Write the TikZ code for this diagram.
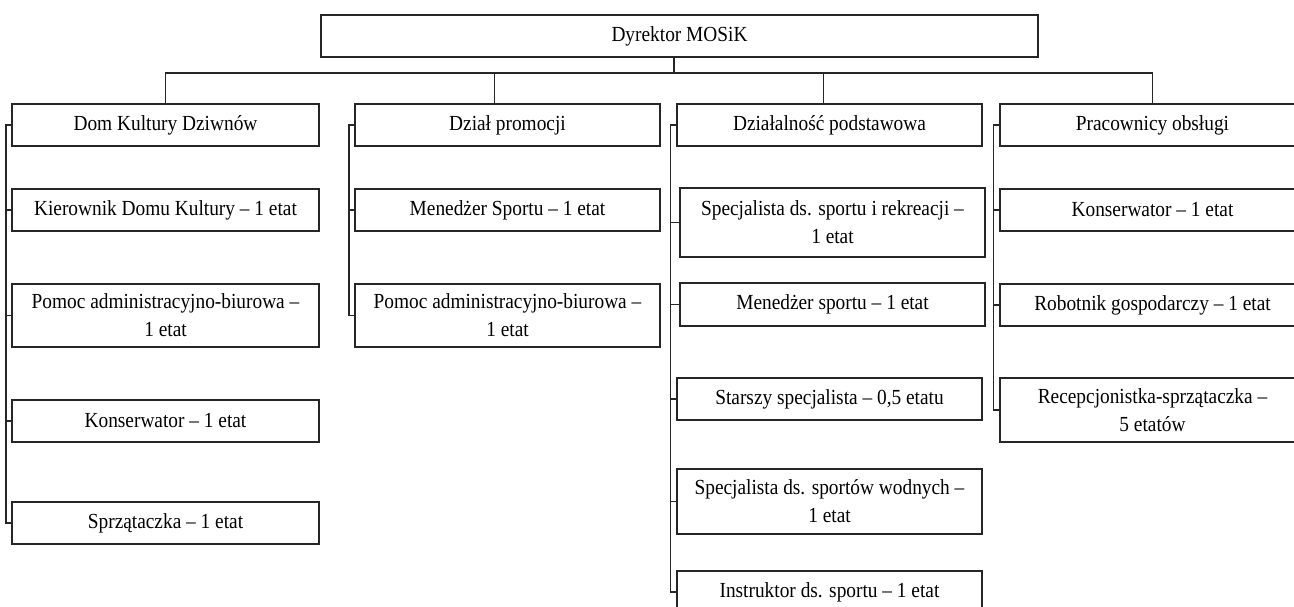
\documentclass[tikz,border=0pt]{standalone}
\usepackage{fontspec}
\setmainfont{Liberation Serif}[FakeStretch=0.9]
\usetikzlibrary{calc}

\begin{document}
\begin{tikzpicture}[x=1pt, y=-1pt,
	box/.style={draw=black!85, line width=1.1pt, minimum height=42pt, inner sep=0pt, align=center, font=\fontsize{21.5}{28}\selectfont},
	wire/.style={draw=black!85, line width=1.2pt}]
			%%%%% START %%%%%
			\useasboundingbox (0,0) rectangle (1294,607);
			\clip (0,0) rectangle (1294,607);
			
			\node[box, minimum width=717pt] (dyr) at (679.5,36) {Dyrektor MOSiK};
			
			\node[box, minimum width=307pt] (d1) at (165.5,125) {Dom Kultury Dziwnów};
			\node[box, minimum width=305pt] (d2) at (507.5,125) {Dział promocji};
			\node[box, minimum width=305pt] (d3) at (829.5,125) {Działalność podstawowa};
			\node[box, minimum width=305pt] (d4) at (1152.5,125) {Pracownicy obsługi};
			
			\node[box, minimum width=307pt] (k11) at (165.5,210) {Kierownik Domu Kultury – 1 etat};
			\node[box, minimum width=307pt, minimum height=63pt] (k12) at (165.5,315.5) {Pomoc administracyjno-biurowa –\\1 etat};
			\node[box, minimum width=307pt] (k13) at (165.5,421) {Konserwator – 1 etat};
			\node[box, minimum width=307pt] (k14) at (165.5,523) {Sprzątaczka – 1 etat};
			
			\node[box, minimum width=305pt] (k21) at (507.5,210) {Menedżer Sportu – 1 etat};
			\node[box, minimum width=305pt, minimum height=63pt] (k22) at (507.5,315.5) {Pomoc administracyjno-biurowa –\\1 etat};
			
			\node[box, minimum width=305pt, minimum height=69pt] (k31) at (832.5,222.5) {Specjalista ds. sportu i rekreacji –\\1 etat};
			\node[box, minimum width=305pt, minimum height=43pt] (k32) at (832.5,304.5) {Menedżer sportu – 1 etat};
			\node[box, minimum width=305pt] (k33) at (829.5,399) {Starszy specjalista – 0,5 etatu};
			\node[box, minimum width=305pt, minimum height=65pt] (k34) at (829.5,501.5) {Specjalista ds. sportów wodnych –\\1 etat};
			\node[box, minimum width=305pt] (k35) at (829.5,592) {Instruktor ds. sportu – 1 etat};
			
			\node[box, minimum width=305pt] (k41) at (1152.5,210) {Konserwator – 1 etat};
			\node[box, minimum width=305pt] (k42) at (1152.5,305) {Robotnik gospodarczy – 1 etat};
			\node[box, minimum width=305pt, minimum height=64pt] (k43) at (1152.5,410) {Recepcjonistka-sprzątaczka –\\5 etatów};
			
			% szyna pod dyrektorem
			\coordinate (bus) at (674,73);
			\draw[wire] (dyr.south -| bus) -- (bus);
			\draw[wire] (d1.north) -- (d1.north |- bus) -- (d4.north |- bus) -- (d4.north);
			\draw[wire] ([xshift=-13pt]d2.north) -- ([xshift=-13pt]d2.north |- bus);
			\draw[wire] ([xshift=-6pt]d3.north) -- ([xshift=-6pt]d3.north |- bus);
			
			% linie boczne
			\draw[wire] (d1.west) -- ++(-5.5,0) coordinate (s1) |- (k14.west);
			\foreach \k in {k11,k12,k13} \draw[wire] (s1 |- \k.west) -- (\k.west);
			
			\draw[wire] (d2.west) -- ++(-5.5,0) coordinate (s2) |- (k22.west);
			\draw[wire] (s2 |- k21.west) -- (k21.west);
			
			\draw[wire] (d3.west) -- ++(-6,0) coordinate (s3) |- (k35.west);
			\foreach \k in {k31,k32,k33,k34} \draw[wire] (s3 |- \k.west) -- (\k.west);
			
			\draw[wire] (d4.west) -- ++(-6,0) coordinate (s4) |- (k43.west);
			\foreach \k in {k41,k42} \draw[wire] (s4 |- \k.west) -- (\k.west);
			
			%%%%% END %%%%%
\end{tikzpicture}
\end{document}
